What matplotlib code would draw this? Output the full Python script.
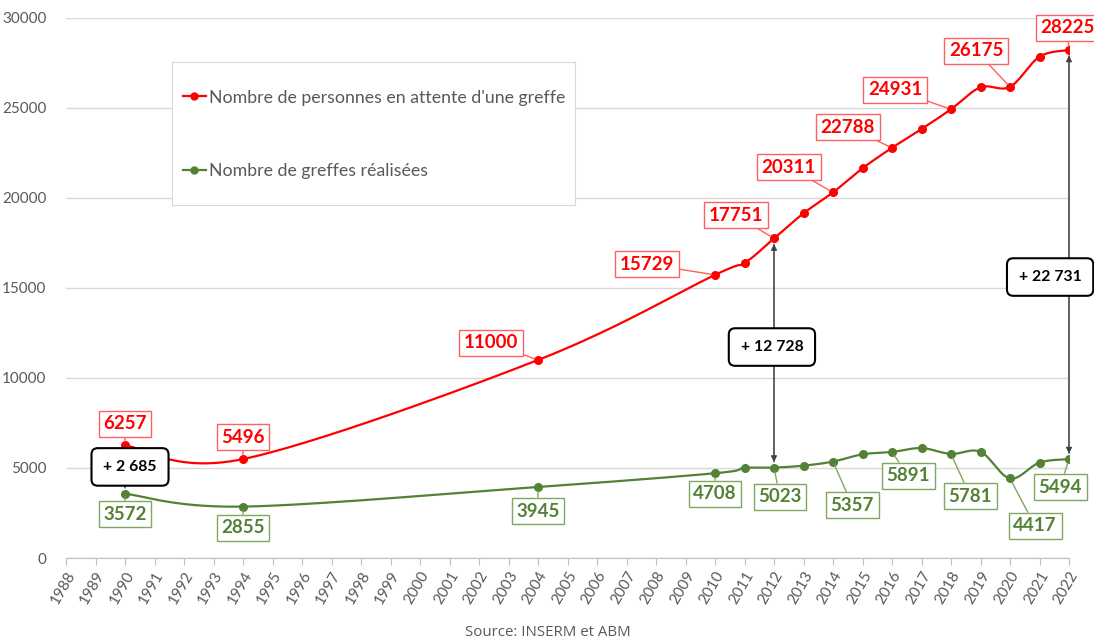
import matplotlib
matplotlib.use("Agg")
import matplotlib.pyplot as plt
from matplotlib.patches import Rectangle
import numpy as np

# data
years_attente = [1990, 1994, 2004, 2010, 2011, 2012, 2013, 2014, 2015, 2016,
                 2017, 2018, 2019, 2020, 2021, 2022]
attente = [6257, 5496, 11000, 15729, 16390, 17751, 19150, 20311, 21650, 22788,
           23830, 24931, 26150, 26175, 27850, 28225]

years_greffes = [1990, 1994, 2004, 2010, 2011, 2012, 2013, 2014, 2015, 2016,
                 2017, 2018, 2019, 2020, 2021, 2022]
greffes = [3572, 2855, 3945, 4708, 5000, 5023, 5130, 5357, 5760, 5891,
           6105, 5781, 5900, 4417, 5300, 5494]

# which points get a value label, and where the label box sits (year, value)
red_labels = {1990: (1990.0, 7450), 1994: (1994.0, 6720), 2004: (2002.4, 11950),
              2010: (2007.7, 16330), 2012: (2010.7, 19050), 2014: (2012.5, 21720),
              2016: (2014.5, 23940), 2018: (2016.1, 26000), 2020: (2018.85, 28170),
              2022: (2021.95, 29450)}
green_labels = {1990: (1990.0, 2440), 1994: (1994.0, 1670), 2004: (2004.0, 2610),
                2010: (2010.0, 3560), 2012: (2012.2, 3390), 2014: (2014.65, 2940),
                2016: (2016.55, 4560), 2018: (2018.65, 3440), 2020: (2020.85, 1780),
                2022: (2021.7, 3940)}

# differences shown in black boxes
diff_years = [1990, 2012, 2022]
diff_text = ["+ 2 685", "+ 12 728", "+ 22 731"]
diff_pos = [(1990.17, 5060), (2011.93, 11720), (2021.36, 15610)]

year_ticks = list(range(1988, 2023))

RED = "#FF0000"
GREEN = "#538135"
GRAY = "#595959"

plt.rcParams['font.family'] = ['Lato', 'DejaVu Sans']


def smooth(xs, ys, n=30):
    # excel-like smoothed line: cubic bezier with catmull-rom control points
    P = np.column_stack([xs, ys]).astype(float)
    out = []
    for i in range(len(P) - 1):
        p0 = P[i]
        p3 = P[i + 1]
        pm = P[i - 1] if i > 0 else P[i]
        pp = P[i + 2] if i + 2 < len(P) else P[i + 1]
        c1 = p0 + (p3 - pm) / 6
        c2 = p3 - (pp - p0) / 6
        t = np.linspace(0, 1, n)[:, None]
        seg = ((1 - t) ** 3) * p0 + 3 * ((1 - t) ** 2) * t * c1 + 3 * (1 - t) * t ** 2 * c2 + t ** 3 * p3
        out.append(seg if i == 0 else seg[1:])
    out = np.vstack(out)
    return out[:, 0], out[:, 1]


fig = plt.figure(figsize=(10.94, 6.4), dpi=100)
ax = fig.add_axes([66 / 1094, 1 - 558 / 640, (1069 - 66) / 1094, (558 - 18) / 640])

sx, sy = smooth(years_attente, attente)
ax.plot(sx, sy, color=RED, lw=1.6, zorder=3)
ax.plot(years_attente, attente, 'o', color=RED, ms=5.5, zorder=4)
gx, gy = smooth(years_greffes, greffes)
ax.plot(gx, gy, color=GREEN, lw=1.6, zorder=3)
ax.plot(years_greffes, greffes, 'o', color=GREEN, ms=5.5, zorder=4)

# legend box (drawn separately so it can be taller than the entries)
ax.add_patch(Rectangle((172 / 1094, 1 - 205 / 640), (575 - 172) / 1094, (205 - 62) / 640,
                       transform=fig.transFigure, fc='white', ec='#d9d9d9', lw=0.8,
                       zorder=5, clip_on=False))

# legend entries
ax.plot([], [], '-o', color=RED, ms=5, lw=1.6, label="Nombre de personnes en attente d'une greffe")
ax.plot([], [], '-o', color=GREEN, ms=5, lw=1.6, label="Nombre de greffes réalisées")
leg = ax.legend(loc='upper left', bbox_to_anchor=(106 / 1003, (558 - 79) / 540),
                fontsize=12.8, labelspacing=3.25, borderpad=0.6, handlelength=1.3,
                handletextpad=0.2, frameon=False, borderaxespad=0)
leg.set_zorder(8)
for t in leg.get_texts():
    t.set_color(GRAY)

# value labels
for yr, val in zip(years_attente, attente):
    if yr in red_labels:
        ax.annotate(str(val), xy=(yr, val), xytext=red_labels[yr], ha='center', va='center',
                    fontsize=13.5, fontweight='bold', color=RED, zorder=6, annotation_clip=False,
                    bbox=dict(boxstyle='square,pad=0.25', fc='white', ec='#FF6060', lw=1),
                    arrowprops=dict(arrowstyle='-', color='#FF6060', lw=1, shrinkA=0, shrinkB=3))
for yr, val in zip(years_greffes, greffes):
    if yr in green_labels:
        ax.annotate(str(val), xy=(yr, val), xytext=green_labels[yr], ha='center', va='center',
                    fontsize=13.5, fontweight='bold', color=GREEN, zorder=6, annotation_clip=False,
                    bbox=dict(boxstyle='square,pad=0.25', fc='white', ec='#7FA860', lw=1),
                    arrowprops=dict(arrowstyle='-', color='#7FA860', lw=1, shrinkA=0, shrinkB=3))

# difference arrows and boxes
for yr, txt, pos in zip(diff_years, diff_text, diff_pos):
    top = attente[years_attente.index(yr)]
    bot = greffes[years_greffes.index(yr)]
    ax.annotate('', xy=(yr, top), xytext=(yr, bot), zorder=2,
                arrowprops=dict(arrowstyle='-|>', color='#404040', lw=0.8, shrinkA=4, shrinkB=4,
                                mutation_scale=9))
    ax.annotate('', xy=(yr, bot), xytext=(yr, top), zorder=2,
                arrowprops=dict(arrowstyle='-|>', color='#404040', lw=0.8, shrinkA=4, shrinkB=4,
                                mutation_scale=9))
    ax.text(pos[0], pos[1], txt, ha='center', va='center', fontsize=11.3, fontweight='bold',
            color='black', zorder=7, clip_on=False,
            bbox=dict(boxstyle='round,pad=0.75,rounding_size=0.4', fc='white', ec='black', lw=1.5))

ax.set_xlim(1988, 2022)
ax.set_ylim(0, 30000)
ax.set_xticks(year_ticks)
ax.set_xticklabels([str(y) for y in year_ticks], rotation=60, ha='right', rotation_mode='anchor')
ax.set_yticks(range(0, 30001, 5000))
ax.tick_params(axis='x', colors=GRAY, labelsize=11, length=5, width=0.8, color='#bfbfbf', pad=3)
ax.tick_params(axis='y', colors=GRAY, labelsize=11, length=0, pad=14)
ax.set_xticks(range(1990, 2023, 4), minor=True)
ax.grid(axis='y', color='#d9d9d9', lw=1)
ax.grid(axis='x', which='minor', color='#d9d9d9', lw=1)
ax.tick_params(axis='x', which='minor', length=0)
for s in ['top', 'right', 'left']:
    ax.spines[s].set_visible(False)
ax.spines['bottom'].set_color('#bfbfbf')
ax.set_axisbelow(True)

fig.text(548 / 1094, 1 - 632 / 640, "Source: INSERM et ABM", ha='center', va='center',
         fontsize=10.8, color=GRAY, family=['Open Sans', 'DejaVu Sans'])

fig.savefig("out.png", dpi=100)
